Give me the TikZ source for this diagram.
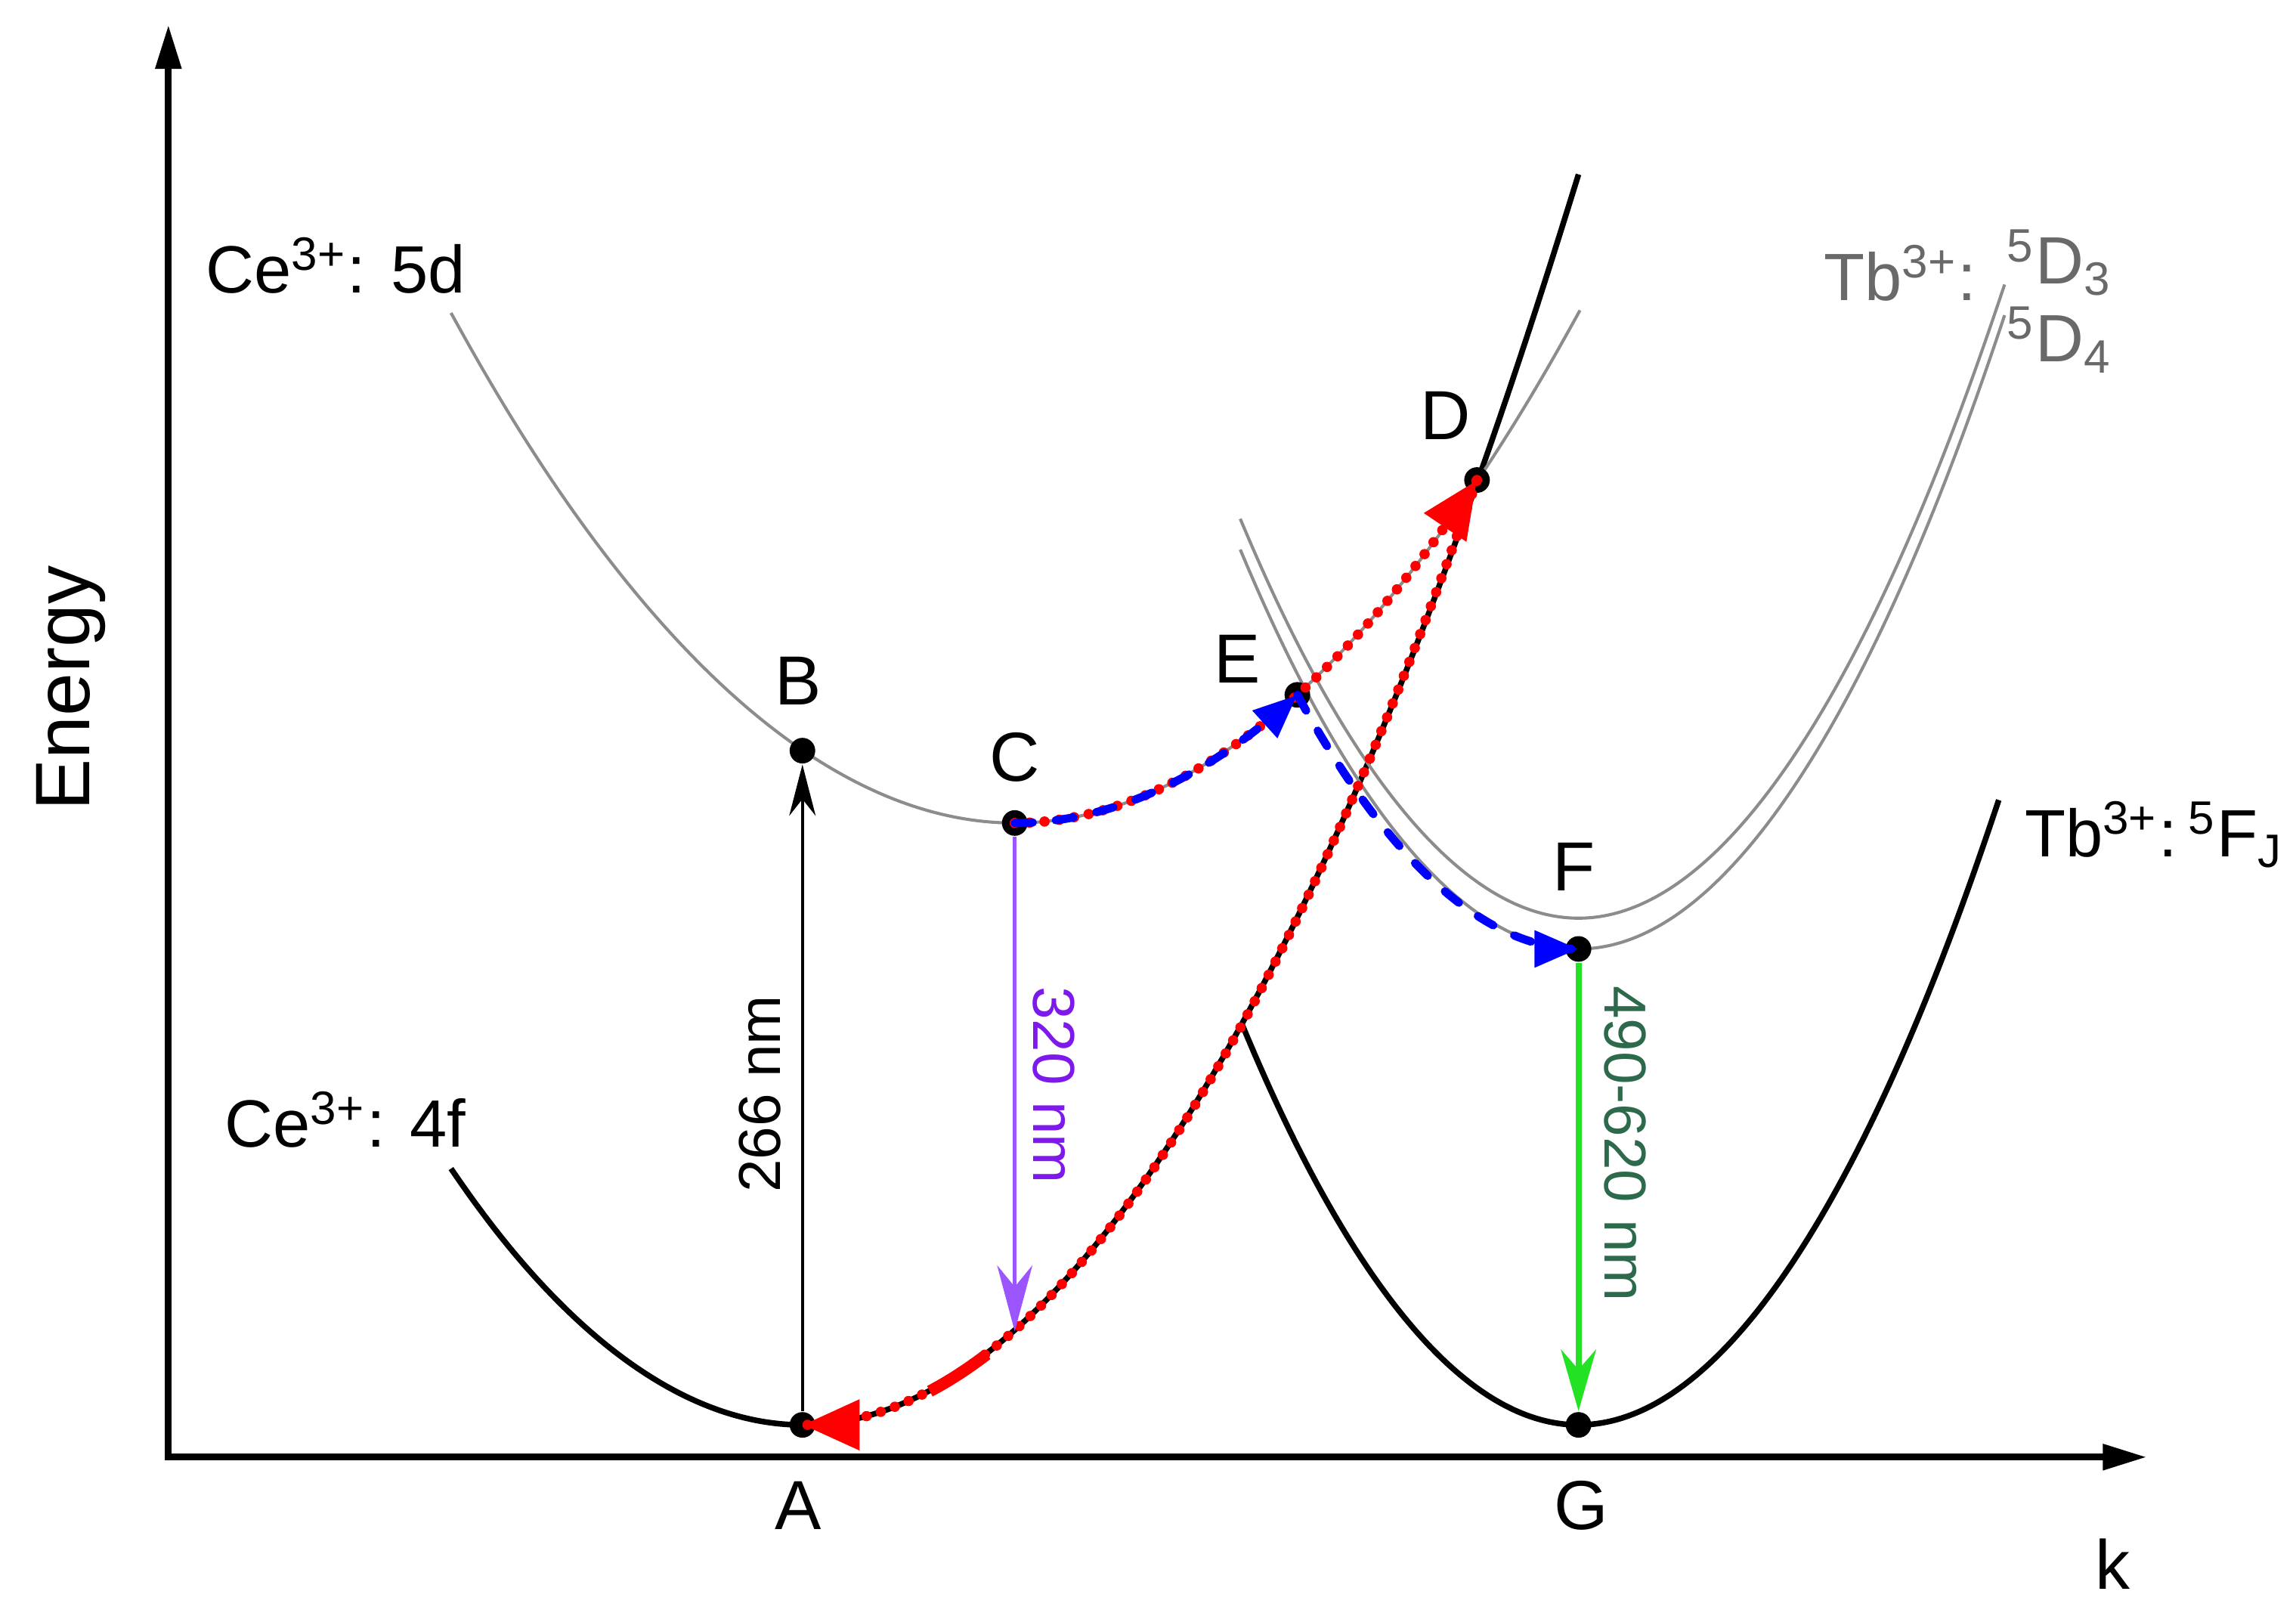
\documentclass[tikz,border=0pt]{standalone}
\usepackage{fontspec}
\setmainfont{Liberation Sans}
\usepackage{xcolor}
\usetikzlibrary{arrows.meta,backgrounds,calc,decorations.markings,positioning}

\definecolor{curvegray}{RGB}{140,140,140}
\definecolor{textgray}{RGB}{105,105,105}
\definecolor{uvpurple}{RGB}{155,85,255}
\definecolor{uvtext}{RGB}{125,25,235}
\definecolor{tbgreen}{RGB}{35,225,35}
\definecolor{tbtext}{RGB}{45,105,75}

\tikzset{%
	dot/.style       = {circle, fill=black, inner sep=0pt, minimum size=1.75mm}, % state point
	ptlabel/.style   = {font=\fontsize{13.5}{16}\selectfont},
	ionlabel/.style  = {font=\fontsize{13}{16}\selectfont, anchor=base west, inner sep=0pt},
	nmlabel/.style   = {font=\fontsize{11.5}{14}\selectfont, anchor=base, inner sep=0pt},
	axisline/.style  = {line width=1.3pt, {Triangle[length=3mm,width=1.7mm]}-{Triangle[length=3mm,width=1.7mm]}},
	blackcurve/.style= {line width=1.1pt},
	greycurve/.style = {curvegray, line width=0.6pt},
	reddots/.style   = {red, line width=2pt, line cap=round, dash pattern=on 0pt off 2.9pt},
	bluedash/.style  = {blue, line width=1.6pt, line cap=round, dash pattern=on 3.5pt off 4.5pt},
	tipat/.style     = {postaction={decorate}, decoration={markings, mark=at position 0.9999 with {\arrow{#1}}}}, % head without shortening the curve
}

\begin{document}
\begin{tikzpicture}[x=0.1mm,y=-0.1mm]
	\useasboundingbox (0,0) rectangle (1568,1103);

	% axes
	\coordinate (origin) at (115,995);
	\coordinate (ytop) at (115,17);
	\coordinate (xend) at (1466,995);
	\draw[axisline] (ytop) -- (origin) -- (xend);

	% state points
	\node [dot] (A) at (548,973) {};
	\node [dot] (B) at (548,512.6) {};
	\node [dot] (C) at (693,562) {};
	\node [dot] (D) at (1008.7,327.8) {};
	\node [dot] (E) at (886,474.5) {};
	\node [dot] (F) at (1078,648) {};
	\node [dot] (G) at (1078,973) {};
	\coordinate (Cdown) at (693,909.1);

	% potential curves
	\begin{scope}[on background layer]
	\draw[blackcurve] (308,798) parabola bend (A) (1078,119.1);
	\draw[greycurve] (308,213.7) parabola bend (C) (1079,211.9);
	\draw[greycurve] (847,354.3) parabola bend (1078,627) (1369,194.3);
	\draw[greycurve] (847,375.3) parabola bend (F) (1369,215.3);
	\draw[blackcurve] (848,699) parabola bend (G) (1365,546.3);
	\end{scope}

	% relaxation paths
	\draw[reddots, tipat={Triangle[length=3.9mm,width=3.3mm]}] (C) parabola (D);
	\draw[reddots, tipat={Triangle[length=3.9mm,width=3.3mm]}] (D) parabola[bend at end] (A);
	\draw[red, line width=2.3pt] plot[domain=635:674] (\x,{973-0.00304*(\x-548)^2});
	\draw[bluedash, tipat={Triangle[length=3mm,width=2.4mm]}] (C) parabola (E);
	\draw[bluedash, tipat={Triangle[length=3mm,width=2.4mm]}] (E) parabola[bend at end] (F);

	% optical transitions
	\draw[line width=0.6pt, -{Stealth[length=3.5mm,width=1.8mm]}] (A) -- (B);
	\draw[uvpurple, line width=0.8pt, -{Stealth[length=4.5mm,width=2.4mm]}] (C) -- (Cdown);
	\draw[tbgreen, line width=1.2pt, -{Stealth[length=4.2mm,width=2.4mm]}] (F) -- (G);

	% labels
	\node [ptlabel] (lA) at (545,1028) {A};
	\node [ptlabel] (lG) at (1080,1028) {G};
	\node [ptlabel] (lB) at (545,465) {B};
	\node [ptlabel] (lC) at (693,517) {C};
	\node [ptlabel] (lD) at (987,284) {D};
	\node [ptlabel] (lE) at (845,450) {E};
	\node [ptlabel] (lF) at (1075,592) {F};
	\node [ptlabel] (lk) at (1443,1068) {k};
	\node [font=\fontsize{15}{18}\selectfont, rotate=90, anchor=base, inner sep=0pt] (energy) at (61,470) {Energy};

	\node [ionlabel] (ce5d) at (140,200) {Ce\textsuperscript{3+}: 5d};
	\node [ionlabel] (ce4f) at (153,783) {Ce\textsuperscript{3+}: 4f};
	\node [ionlabel, textgray] (tbd) at (1245,205) {Tb\textsuperscript{3+}:};
	\node [ionlabel, textgray] (dthree) at (1370,194) {\textsuperscript{5}D\textsubscript{3}};
	\node [ionlabel, textgray] (dfour) at (1370,247) {\textsuperscript{5}D\textsubscript{4}};
	\node [ionlabel] (tbf) at (1382,585) {Tb\textsuperscript{3+}:\,\textsuperscript{5}F\textsubscript{J}};

	\node [nmlabel, rotate=90] (lexc) at (533,747) {266 nm};
	\node [nmlabel, rotate=-90, uvtext] (luv) at (706,741) {320 nm};
	\node [nmlabel, rotate=-90, tbtext] (lvis) at (1096,781) {490-620 nm};
\end{tikzpicture}
\end{document}
